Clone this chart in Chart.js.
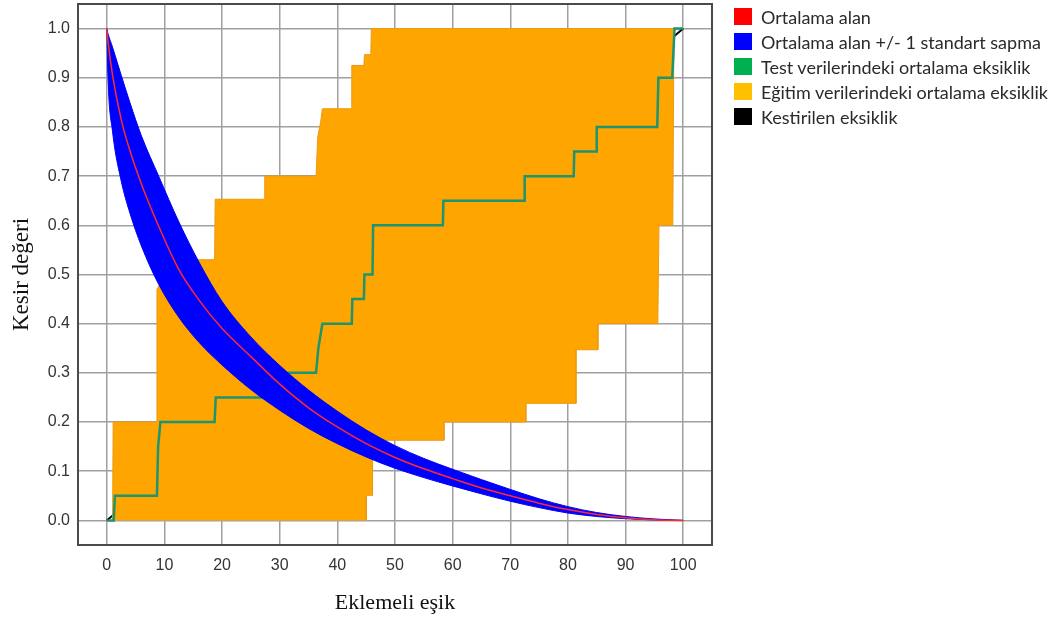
<!DOCTYPE html>
<html>
<head>
<meta charset="utf-8">
<script src="https://cdn.jsdelivr.net/npm/chart.js@4.4.1/dist/chart.umd.min.js"></script>
<style>
  body { margin: 0; background: #fff; }
  #wrap { position: relative; width: 1061px; height: 621px; }
  #legend { position: absolute; left: 734px; top: 4px; font-family: Lato, "Liberation Sans", sans-serif; font-size: 18px; color: #2a2a2a; }
  #legend div { height: 25px; display: flex; align-items: center; white-space: nowrap; }
  #legend .box { width: 18px; height: 17px; margin-right: 9px; display: inline-block; }
</style>
</head>
<body>
<div id="wrap">
  <canvas id="chart"></canvas>
  <div id="legend"></div>
</div>
<script>
const xGrid = [0, 10, 20, 30, 40, 50, 60, 70, 80, 90, 100];
const yGrid = [0, 0.1, 0.2, 0.3, 0.4, 0.5, 0.6, 0.7, 0.8, 0.9, 1.0];

// mean predicted area and the +/- 1 sd band, read at the same thresholds
const areaX = [0, 0.2, 1, 2.5, 4, 6, 9, 12.5, 16, 20, 25, 30, 35, 40, 45, 50, 55, 60, 65, 70, 75, 80, 85, 90, 95, 100];
const areaMean = [1.0, 0.975, 0.905, 0.815, 0.752, 0.684, 0.598, 0.51, 0.448, 0.39, 0.333, 0.277, 0.229, 0.19, 0.156, 0.128, 0.105, 0.085, 0.066, 0.05, 0.035, 0.022, 0.012, 0.0055, 0.0015, 0];
const areaUpper = [1.0, 0.99, 0.962, 0.905, 0.85, 0.782, 0.70, 0.607, 0.525, 0.445, 0.373, 0.315, 0.265, 0.222, 0.184, 0.152, 0.126, 0.104, 0.083, 0.063, 0.044, 0.028, 0.016, 0.008, 0.003, 0];
const areaLower = [1.0, 0.90, 0.79, 0.69, 0.625, 0.558, 0.48, 0.413, 0.362, 0.316, 0.266, 0.224, 0.187, 0.156, 0.129, 0.106, 0.087, 0.07, 0.054, 0.039, 0.026, 0.015, 0.008, 0.0035, 0.001, 0];

// mean omission on test data (step line)
const testX = [0, 1.2, 1.4, 8.7, 8.9, 9.3, 18.7, 18.9, 27.3, 27.4, 36.3, 36.7, 37.4, 42.5, 42.6, 44.6, 44.7, 46.1, 46.2, 58.3, 58.4, 72.4, 72.5, 81.0, 81.1, 84.9, 85.0, 95.5, 95.7, 98.1, 98.5, 100];
const testY = [0, 0, 0.05, 0.05, 0.15, 0.2, 0.2, 0.25, 0.25, 0.3, 0.3, 0.35, 0.4, 0.4, 0.45, 0.45, 0.5, 0.5, 0.6, 0.6, 0.65, 0.65, 0.7, 0.7, 0.75, 0.75, 0.8, 0.8, 0.9, 0.9, 1.0, 1.0];

// omission on training data, outline of the filled region
const trainX = [1.0, 1.1, 8.6, 8.7, 9.2, 9.6, 18.7, 18.8, 27.3, 27.4, 36.3, 36.6, 37.1, 37.4, 42.4, 42.5, 44.6, 44.7, 45.8, 45.9, 98.4, 98.2, 95.8, 95.6, 85.2, 85.2, 81.4, 81.4, 72.7, 72.7, 58.5, 58.5, 46.1, 46.1, 45.0, 45.0];
const trainY = [0, 0.2, 0.2, 0.47, 0.48, 0.53, 0.53, 0.653, 0.653, 0.70, 0.70, 0.78, 0.81, 0.837, 0.837, 0.925, 0.925, 0.947, 0.947, 1.0, 1.0, 0.60, 0.60, 0.40, 0.40, 0.347, 0.347, 0.238, 0.238, 0.2, 0.2, 0.163, 0.163, 0.051, 0.051, 0];

// predicted omission
const predX = [0, 100];
const predY = [0, 1];

const legendItems = [
  ['Ortalama alan', '#ff0000'],
  ['Ortalama alan +/- 1 standart sapma', '#0000ff'],
  ['Test verilerindeki ortalama eksiklik', '#00b050'],
  ['Eğitim verilerindeki ortalama eksiklik', '#ffc000'],
  ['Kestirilen eksiklik', '#000000']
];

function pts(xs, ys) {
  return xs.map((x, i) => ({ x: x, y: ys[i] }));
}

const legendEl = document.getElementById('legend');
legendItems.forEach(function (it) {
  const row = document.createElement('div');
  row.innerHTML = '<span class="box" style="background:' + it[1] + '"></span>' + it[0];
  legendEl.appendChild(row);
});

const frame = {
  id: 'frame',
  afterDraw(chart) {
    const a = chart.chartArea, ctx = chart.ctx;
    ctx.save();
    ctx.strokeStyle = '#4a4a4a';
    ctx.lineWidth = 2;
    ctx.strokeRect(a.left, a.top, a.right - a.left, a.bottom - a.top);
    ctx.restore();
  }
};

new Chart(document.getElementById('chart'), {
  type: 'scatter',
  data: {
    datasets: [
      { data: pts(areaX, areaMean), showLine: true, borderColor: '#ff2a2a', borderWidth: 1.5, pointRadius: 0, cubicInterpolationMode: 'monotone' },
      { data: pts(areaX, areaUpper), showLine: true, borderColor: '#0000ee', borderWidth: 1, pointRadius: 0, cubicInterpolationMode: 'monotone', fill: '+1', backgroundColor: '#0000ff' },
      { data: pts(areaX, areaLower), showLine: true, borderColor: '#0000ee', borderWidth: 1, pointRadius: 0, cubicInterpolationMode: 'monotone' },
      { data: pts(testX, testY), showLine: true, borderColor: '#1e9470', borderWidth: 2.5, pointRadius: 0 },
      { data: pts(trainX, trainY), showLine: true, borderColor: '#eb9a12', borderWidth: 1, pointRadius: 0, fill: 'shape', backgroundColor: '#ffa500' },
      { data: pts(predX, predY), showLine: true, borderColor: '#000000', borderWidth: 2, pointRadius: 0 }
    ]
  },
  options: {
    responsive: true,
    maintainAspectRatio: false,
    animation: false,
    layout: { padding: { left: 0, right: 349, top: 4, bottom: 0 } },
    plugins: { legend: { display: false }, tooltip: { enabled: false } },
    scales: {
      x: {
        type: 'linear', min: -5, max: 105,
        afterBuildTicks: s => { s.ticks = xGrid.map(v => ({ value: v })); },
        afterFit: s => { s.height = 76; s.paddingLeft = 0; s.paddingRight = 0; },
        grid: { color: '#a0a0a0', lineWidth: 1.5, drawTicks: false },
        border: { display: false },
        ticks: { color: '#333', padding: 11, font: { family: 'Liberation Sans', size: 16 }, callback: v => String(v) },
        title: { display: true, text: 'Eklemeli eşik', color: '#111', padding: { bottom: 5 }, font: { family: 'Liberation Serif', size: 22 } }
      },
      y: {
        type: 'linear', min: -0.05, max: 1.05,
        afterBuildTicks: s => { s.ticks = yGrid.map(v => ({ value: v })); },
        afterFit: s => { s.width = 78; s.paddingTop = 0; s.paddingBottom = 0; },
        grid: { color: '#a0a0a0', lineWidth: 1.5, drawTicks: false },
        border: { display: false },
        ticks: { color: '#333', padding: 8, font: { family: 'Liberation Sans', size: 16 }, callback: v => v.toFixed(1) },
        title: { display: true, text: 'Kesir değeri', color: '#111', padding: { top: 8 }, font: { family: 'Liberation Serif', size: 23 } }
      }
    }
  },
  plugins: [frame]
});
</script>
</body>
</html>
